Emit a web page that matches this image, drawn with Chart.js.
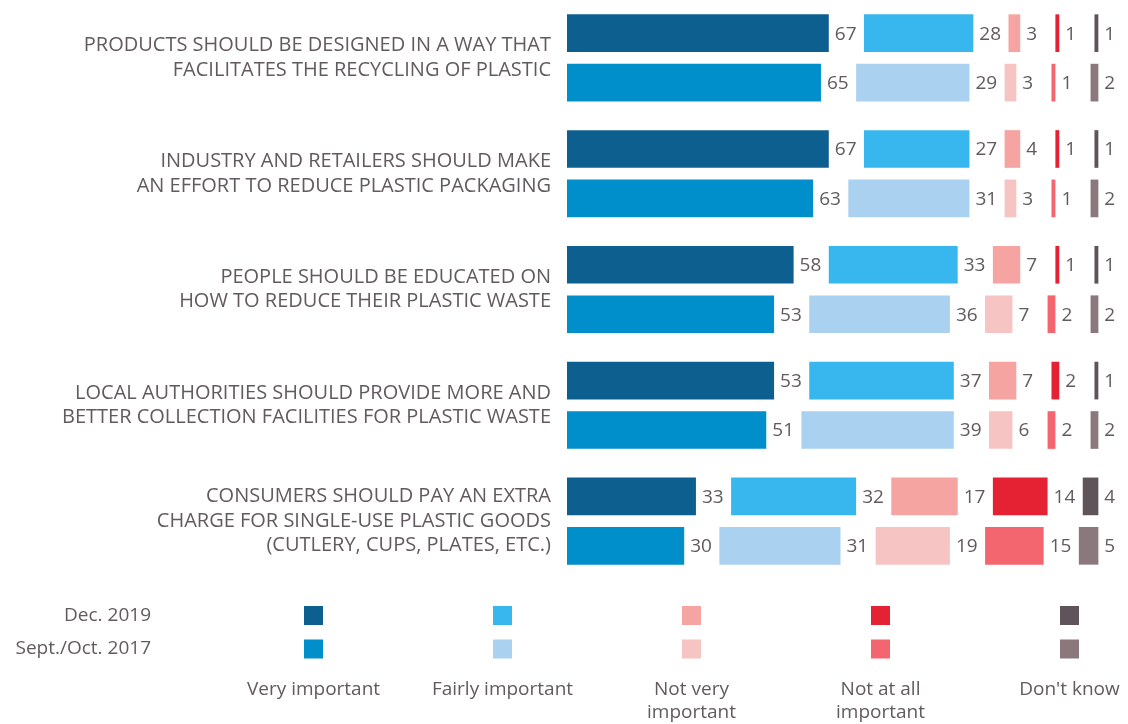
<!DOCTYPE html>
<html>
<head>
<meta charset="utf-8">
<script src="https://cdn.jsdelivr.net/npm/chart.js@4.4.1/dist/chart.umd.min.js"></script>
<style>
  body { margin: 0; background: #ffffff; }
  #wrap { width: 1128px; height: 724px; position: relative; }
</style>
</head>
<body>
<div id="wrap"><canvas id="myChart"></canvas></div>
<script>
var categories = [
  ['PRODUCTS SHOULD BE DESIGNED IN A WAY THAT', 'FACILITATES THE RECYCLING OF PLASTIC'],
  ['INDUSTRY AND RETAILERS SHOULD MAKE', 'AN EFFORT TO REDUCE PLASTIC PACKAGING'],
  ['PEOPLE SHOULD BE EDUCATED ON', 'HOW TO REDUCE THEIR PLASTIC WASTE'],
  ['LOCAL AUTHORITIES SHOULD PROVIDE MORE AND', 'BETTER COLLECTION FACILITIES FOR PLASTIC WASTE'],
  ['CONSUMERS SHOULD PAY AN EXTRA', 'CHARGE FOR SINGLE-USE PLASTIC GOODS', '(CUTLERY, CUPS, PLATES, ETC.)']
];
var years = ['Dec. 2019', 'Sept./Oct. 2017'];
var answers = [['Very important'], ['Fairly important'], ['Not very', 'important'], ['Not at all', 'important'], ["Don't know"]];

// Dec. 2019
var very2019 = [67, 67, 58, 53, 33];
var fairly2019 = [28, 27, 33, 37, 32];
var notVery2019 = [3, 4, 7, 7, 17];
var notAtAll2019 = [1, 1, 1, 2, 14];
var dontKnow2019 = [1, 1, 1, 1, 4];

// Sept./Oct. 2017
var very2017 = [65, 63, 53, 51, 30];
var fairly2017 = [29, 31, 36, 39, 31];
var notVery2017 = [3, 3, 7, 6, 19];
var notAtAll2017 = [1, 1, 2, 2, 15];
var dontKnow2017 = [2, 2, 2, 2, 5];

var colors2019 = ['#0c5f8f', '#38b7ef', '#f5a4a1', '#e52233', '#5f545a'];
var colors2017 = ['#008fcb', '#aad1ef', '#f6c4c2', '#f4666f', '#8a787c'];

var GAP = 9;          // blank space between answer blocks, in % units
var TEXT = '#625a5e';
var FONT = '"Open Sans", "Noto Sans", sans-serif';

function buildDatasets(stack, series, colors) {
  var out = [];
  series.forEach(function (values, i) {
    out.push({ label: answers[i].join(' '), data: values, backgroundColor: colors[i], stack: stack, borderWidth: 0 });
    if (i < series.length - 1) {
      out.push({ label: '', data: categories.map(function () { return GAP; }), backgroundColor: 'rgba(0,0,0,0)', stack: stack, isGap: true });
    }
  });
  return out;
}

var datasets = buildDatasets('2019', [very2019, fairly2019, notVery2019, notAtAll2019, dontKnow2019], colors2019)
  .concat(buildDatasets('2017', [very2017, fairly2017, notVery2017, notAtAll2017, dontKnow2017], colors2017));

var valueLabels = {
  id: 'valueLabels',
  afterDatasetsDraw: function (chart) {
    var ctx = chart.ctx;
    ctx.save();
    ctx.font = '19px ' + FONT;
    ctx.fillStyle = TEXT;
    ctx.textAlign = 'left';
    ctx.textBaseline = 'middle';
    chart.data.datasets.forEach(function (ds, i) {
      if (ds.isGap) return;
      chart.getDatasetMeta(i).data.forEach(function (bar, j) {
        ctx.fillText(ds.data[j], bar.x + 6, bar.y + 1);
      });
    });
    ctx.restore();
  }
};

// two-row legend: one row per survey wave, one column per answer
var matrixLegend = {
  id: 'matrixLegend',
  afterDraw: function (chart) {
    var ctx = chart.ctx;
    var rowY = [615.5, 649];
    var colX = [313.5, 502.5, 691.5, 880.5, 1069.5];
    var palettes = [colors2019, colors2017];
    ctx.save();
    ctx.font = '19px ' + FONT;
    ctx.textBaseline = 'middle';
    years.forEach(function (y, r) {
      ctx.fillStyle = TEXT;
      ctx.textAlign = 'right';
      ctx.fillText(y, 151, rowY[r]);
      colX.forEach(function (x, c) {
        ctx.fillStyle = palettes[r][c];
        ctx.fillRect(x - 9.5, rowY[r] - 9.5, 19, 19);
      });
    });
    ctx.fillStyle = TEXT;
    ctx.textAlign = 'center';
    answers.forEach(function (lines, c) {
      lines.forEach(function (line, k) {
        ctx.fillText(line, colX[c], 690 + k * 23);
      });
    });
    ctx.restore();
  }
};

var ctx = document.getElementById('myChart').getContext('2d');
var myChart = new Chart(ctx, {
  type: 'bar',
  data: { labels: categories, datasets: datasets },
  options: {
    indexAxis: 'y',
    responsive: true,
    maintainAspectRatio: false,
    animation: false,
    layout: { padding: { top: 0, right: 14, bottom: 145, left: 0 } },
    datasets: { bar: { categoryPercentage: 0.854, barPercentage: 0.762 } },
    plugins: { legend: { display: false }, tooltip: { enabled: false } },
    scales: {
      x: { stacked: true, display: false, min: 0, max: 140 },
      y: {
        stacked: true,
        grid: { display: false, drawTicks: false },
        border: { display: false },
        ticks: { color: TEXT, padding: 16, font: { family: FONT, size: 20, lineHeight: 1.22 } },
        afterFit: function (scale) {
          scale.width = 567;
          scale.paddingTop = 0;
          scale.paddingBottom = 0;
        }
      }
    }
  },
  plugins: [valueLabels, matrixLegend]
});
</script>
</body>
</html>
